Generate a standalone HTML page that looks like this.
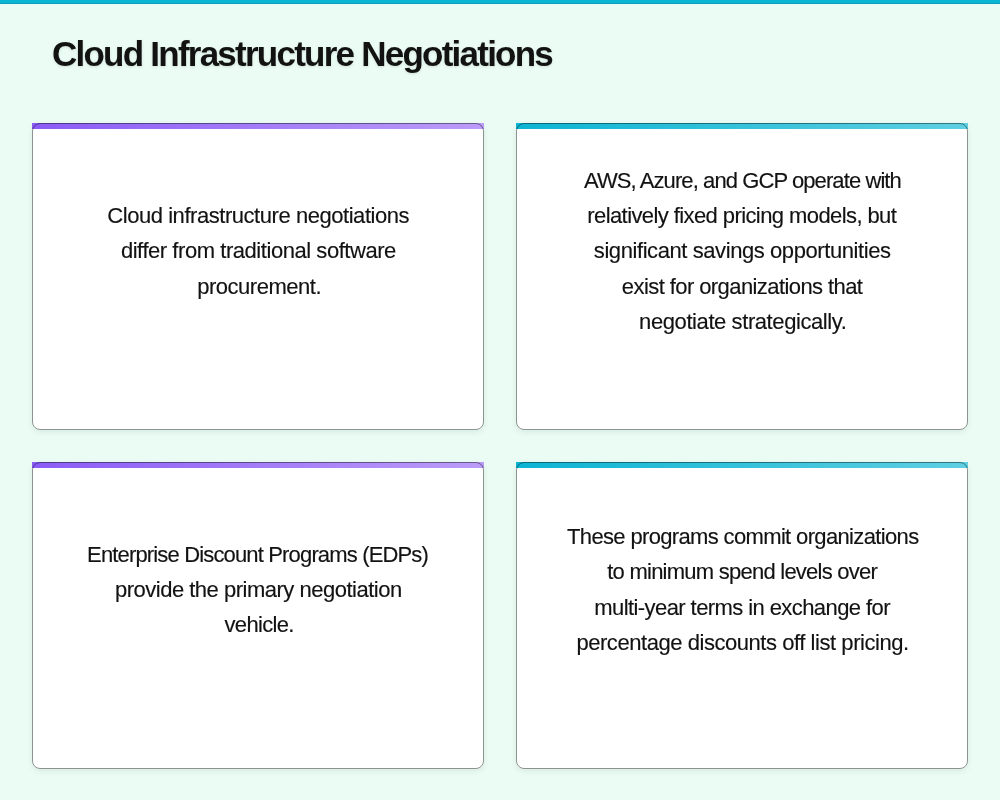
<!DOCTYPE html>
<html>
<head>
<meta charset="utf-8">
<style>
html,body{margin:0;padding:0;}
body{width:1000px;height:800px;overflow:hidden;background:#eafcf4;font-family:"Liberation Sans",sans-serif;position:relative;}
.topbar{position:absolute;left:0;top:0;width:1000px;height:4px;background:linear-gradient(180deg,#0ab4d3 0,#0ab4d3 3px,#0aa0bd 3px);}
h1{position:absolute;left:52.307629778671924px;top:34px;margin:0;font-size:35px;line-height:40px;font-weight:bold;color:#121212;letter-spacing:-1.758842120907266px;white-space:nowrap;text-shadow:0 1px 3px rgba(0,0,0,0.12);}
.card{position:absolute;width:452px;height:307px;background:#fff;border-radius:8px;box-shadow:0 2px 6px rgba(0,40,20,0.08);}
.card::after{content:"";position:absolute;left:0;top:0;right:0;bottom:0;border:1px solid rgba(0,15,10,0.45);border-radius:8px;box-sizing:border-box;pointer-events:none;}
.bar{position:absolute;left:0;top:0;right:0;height:6px;}
.purple .bar{background:linear-gradient(90deg,#8b5cf6,#bb9cf8);}
.cyan .bar{background:linear-gradient(90deg,#0cb4d3,#5fcfe2);}
.c1{left:32px;top:123px;}
.c2{left:516px;top:123px;}
.c3{left:32px;top:461.5px;}
.c4{left:516px;top:461.5px;}
.txt{position:absolute;left:0;width:452px;top:0;height:0;font-size:22px;line-height:35px;color:#121212;-webkit-text-stroke:0.15px #121212;}
.txt div{position:absolute;left:0;width:452px;white-space:nowrap;text-align:center;}
.txt,h1{will-change:transform;}
</style>
</head>
<body>
<div class="topbar"></div>
<h1>Cloud Infrastructure Negotiations</h1>
<div class="card purple c1"><div class="bar"></div>
<div class="txt"><div style="top:75.0px;letter-spacing:-0.451px;transform:translateX(0.21px)">Cloud infrastructure negotiations</div><div style="top:110.0px;letter-spacing:-0.449px;transform:translateX(0.40px)">differ from traditional software</div><div style="top:146.0px;letter-spacing:-0.491px;transform:translateX(1.15px)">procurement.</div></div>
</div>
<div class="card cyan c2"><div class="bar"></div>
<div class="txt"><div style="top:40.0px;letter-spacing:-0.913px;transform:translateX(0.45px)">AWS, Azure, and GCP operate with</div><div style="top:75.0px;letter-spacing:-0.588px;transform:translateX(-0.23px)">relatively fixed pricing models, but</div><div style="top:110.0px;letter-spacing:-0.421px;transform:translateX(0.19px)">significant savings opportunities</div><div style="top:146.0px;letter-spacing:-0.582px;transform:translateX(0.13px)">exist for organizations that</div><div style="top:181.0px;letter-spacing:-0.413px;transform:translateX(0.78px)">negotiate strategically.</div></div>
</div>
<div class="card purple c3"><div class="bar"></div>
<div class="txt"><div style="top:75.0px;letter-spacing:-0.843px;transform:translateX(-0.45px)">Enterprise Discount Programs (EDPs)</div><div style="top:110.0px;letter-spacing:-0.496px;transform:translateX(0.29px)">provide the primary negotiation</div><div style="top:145.0px;letter-spacing:-0.659px;transform:translateX(1.17px)">vehicle.</div></div>
</div>
<div class="card cyan c4"><div class="bar"></div>
<div class="txt"><div style="top:57.0px;letter-spacing:-0.648px;transform:translateX(0.77px)">These programs commit organizations</div><div style="top:92.0px;letter-spacing:-0.754px;transform:translateX(0.18px)">to minimum spend levels over</div><div style="top:128.0px;letter-spacing:-0.581px;transform:translateX(0.13px)">multi-year terms in exchange for</div><div style="top:163.0px;letter-spacing:-0.450px;transform:translateX(0.55px)">percentage discounts off list pricing.</div></div>
</div>
</body>
</html>
